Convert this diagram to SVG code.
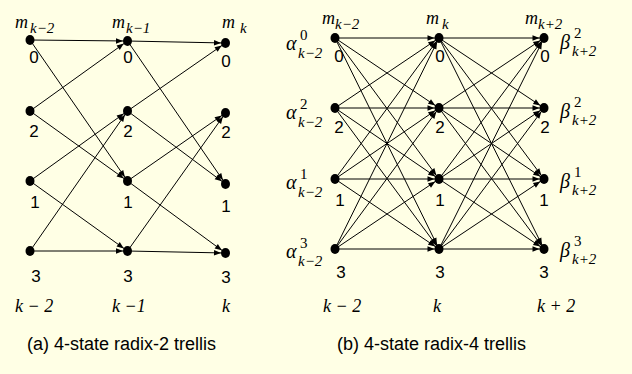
<svg xmlns="http://www.w3.org/2000/svg" width="632" height="374" viewBox="0 0 632 374">
<style>
.e{stroke:#000;stroke-width:1;fill:none;marker-end:url(#ah)}
.n{fill:#000}
.d{font-family:"Liberation Sans",Arial,sans-serif;font-size:17px;fill:#000;text-anchor:middle}
.m{font-family:"Liberation Serif","DejaVu Serif","Times New Roman",Times,serif;font-style:italic;font-size:18px;fill:#000}
.g{font-size:20px}
.s{font-size:15px}
.u{font-style:normal;font-size:15px}
.cap{font-family:"Liberation Sans",Arial,sans-serif;font-size:18px;fill:#000}
</style>
<defs>
<marker id="ah" markerUnits="userSpaceOnUse" markerWidth="14" markerHeight="6" refX="11.5" refY="2.75" orient="auto" overflow="visible">
<path d="M0,0 L7,2.75 L0,5.5 z" fill="#000"/>
</marker>
</defs>
<rect x="0" y="0" width="632" height="374" fill="#FFFFE5"/>
<g id="connectors">
<line class="e" x1="30" y1="40" x2="127.5" y2="41"/>
<line class="e" x1="30" y1="40" x2="127.5" y2="181"/>
<line class="e" x1="30" y1="111" x2="127.5" y2="41"/>
<line class="e" x1="30" y1="111" x2="127.5" y2="181"/>
<line class="e" x1="30" y1="181" x2="127.5" y2="111"/>
<line class="e" x1="30" y1="181" x2="127.5" y2="251"/>
<line class="e" x1="30" y1="251" x2="127.5" y2="111"/>
<line class="e" x1="30" y1="251" x2="127.5" y2="251"/>
<line class="e" x1="127.5" y1="41" x2="225.5" y2="43"/>
<line class="e" x1="127.5" y1="41" x2="225.5" y2="184"/>
<line class="e" x1="127.5" y1="111" x2="225.5" y2="43"/>
<line class="e" x1="127.5" y1="111" x2="225.5" y2="184"/>
<line class="e" x1="127.5" y1="181" x2="225.5" y2="113"/>
<line class="e" x1="127.5" y1="181" x2="225.5" y2="253"/>
<line class="e" x1="127.5" y1="251" x2="225.5" y2="113"/>
<line class="e" x1="127.5" y1="251" x2="225.5" y2="253"/>
<line class="e" x1="335" y1="38" x2="439" y2="38"/>
<line class="e" x1="335" y1="38" x2="439" y2="108"/>
<line class="e" x1="335" y1="38" x2="439" y2="179"/>
<line class="e" x1="335" y1="38" x2="439" y2="249"/>
<line class="e" x1="335" y1="108" x2="439" y2="38"/>
<line class="e" x1="335" y1="108" x2="439" y2="108"/>
<line class="e" x1="335" y1="108" x2="439" y2="179"/>
<line class="e" x1="335" y1="108" x2="439" y2="249"/>
<line class="e" x1="335" y1="179" x2="439" y2="38"/>
<line class="e" x1="335" y1="179" x2="439" y2="108"/>
<line class="e" x1="335" y1="179" x2="439" y2="179"/>
<line class="e" x1="335" y1="179" x2="439" y2="249"/>
<line class="e" x1="335" y1="249" x2="439" y2="38"/>
<line class="e" x1="335" y1="249" x2="439" y2="108"/>
<line class="e" x1="335" y1="249" x2="439" y2="179"/>
<line class="e" x1="335" y1="249" x2="439" y2="249"/>
<line class="e" x1="439" y1="38" x2="544" y2="38"/>
<line class="e" x1="439" y1="38" x2="544" y2="108"/>
<line class="e" x1="439" y1="38" x2="544" y2="179"/>
<line class="e" x1="439" y1="38" x2="544" y2="249"/>
<line class="e" x1="439" y1="108" x2="544" y2="38"/>
<line class="e" x1="439" y1="108" x2="544" y2="108"/>
<line class="e" x1="439" y1="108" x2="544" y2="179"/>
<line class="e" x1="439" y1="108" x2="544" y2="249"/>
<line class="e" x1="439" y1="179" x2="544" y2="38"/>
<line class="e" x1="439" y1="179" x2="544" y2="108"/>
<line class="e" x1="439" y1="179" x2="544" y2="179"/>
<line class="e" x1="439" y1="179" x2="544" y2="249"/>
<line class="e" x1="439" y1="249" x2="544" y2="38"/>
<line class="e" x1="439" y1="249" x2="544" y2="108"/>
<line class="e" x1="439" y1="249" x2="544" y2="179"/>
<line class="e" x1="439" y1="249" x2="544" y2="249"/>
</g>
<g id="a-k2-0"><ellipse class="n" cx="30" cy="40" rx="4.5" ry="5"/><text class="d" x="34" y="63">0</text></g>
<g id="a-k2-2"><ellipse class="n" cx="30" cy="111" rx="4.5" ry="5"/><text class="d" x="34" y="137">2</text></g>
<g id="a-k2-1"><ellipse class="n" cx="30" cy="181" rx="4.5" ry="5"/><text class="d" x="35" y="208">1</text></g>
<g id="a-k2-3"><ellipse class="n" cx="30" cy="251" rx="4.5" ry="5"/><text class="d" x="36" y="282">3</text></g>
<g id="a-k1-0"><ellipse class="n" cx="127.5" cy="41" rx="4.5" ry="5"/><text class="d" x="128" y="63">0</text></g>
<g id="a-k1-2"><ellipse class="n" cx="127.5" cy="111" rx="4.5" ry="5"/><text class="d" x="128" y="137">2</text></g>
<g id="a-k1-1"><ellipse class="n" cx="127.5" cy="181" rx="4.5" ry="5"/><text class="d" x="128" y="208">1</text></g>
<g id="a-k1-3"><ellipse class="n" cx="127.5" cy="251" rx="4.5" ry="5"/><text class="d" x="128" y="282">3</text></g>
<g id="a-k-0"><ellipse class="n" cx="225.5" cy="43" rx="4.5" ry="5"/><text class="d" x="226" y="67">0</text></g>
<g id="a-k-2"><ellipse class="n" cx="225.5" cy="113" rx="4.5" ry="5"/><text class="d" x="226" y="138">2</text></g>
<g id="a-k-1"><ellipse class="n" cx="225.5" cy="184" rx="4.5" ry="5"/><text class="d" x="226" y="212">1</text></g>
<g id="a-k-3"><ellipse class="n" cx="225.5" cy="253" rx="4.5" ry="5"/><text class="d" x="226" y="283">3</text></g>
<g id="b-k2-0"><ellipse class="n" cx="335" cy="38" rx="4.5" ry="5"/><text class="d" x="339" y="62">0</text></g>
<g id="b-k2-2"><ellipse class="n" cx="335" cy="108" rx="4.5" ry="5"/><text class="d" x="339" y="133">2</text></g>
<g id="b-k2-1"><ellipse class="n" cx="335" cy="179" rx="4.5" ry="5"/><text class="d" x="340" y="206">1</text></g>
<g id="b-k2-3"><ellipse class="n" cx="335" cy="249" rx="4.5" ry="5"/><text class="d" x="341" y="278">3</text></g>
<g id="b-k-0"><ellipse class="n" cx="439" cy="38" rx="4.5" ry="5"/><text class="d" x="440" y="62">0</text></g>
<g id="b-k-2"><ellipse class="n" cx="439" cy="108" rx="4.5" ry="5"/><text class="d" x="440" y="133">2</text></g>
<g id="b-k-1"><ellipse class="n" cx="439" cy="179" rx="4.5" ry="5"/><text class="d" x="440" y="206">1</text></g>
<g id="b-k-3"><ellipse class="n" cx="439" cy="249" rx="4.5" ry="5"/><text class="d" x="440" y="278">3</text></g>
<g id="b-kp2-0"><ellipse class="n" cx="544" cy="38" rx="4.5" ry="5"/><text class="d" x="545" y="62">0</text></g>
<g id="b-kp2-2"><ellipse class="n" cx="544" cy="108" rx="4.5" ry="5"/><text class="d" x="545" y="133">2</text></g>
<g id="b-kp2-1"><ellipse class="n" cx="544" cy="179" rx="4.5" ry="5"/><text class="d" x="544" y="206">1</text></g>
<g id="b-kp2-3"><ellipse class="n" cx="544" cy="249" rx="4.5" ry="5"/><text class="d" x="544" y="278">3</text></g>
<g id="labels">
<text class="m" x="15" y="28">m<tspan class="s" x="30" y="33">k−2</tspan></text>
<text class="m" x="112" y="28">m<tspan class="s" x="126" y="33">k−1</tspan></text>
<text class="m" x="222" y="28">m<tspan class="s" x="240" y="33">k</tspan></text>
<text class="m" x="15" y="312">k − 2</text>
<text class="m" x="112" y="312">k −1</text>
<text class="m" x="222" y="312">k</text>
<text class="cap" x="27" y="350">(a) 4-state radix-2 trellis</text>
<text class="m" x="322" y="24">m<tspan class="s" x="335" y="29">k−2</tspan></text>
<text class="m" x="426" y="24">m<tspan class="s" x="442" y="29">k</tspan></text>
<text class="m" x="525" y="24">m<tspan class="s" x="538" y="29">k+2</tspan></text>
<text class="m g" x="286" y="50">α<tspan class="u" x="300" y="40">0</tspan><tspan class="s" x="298" y="58">k−2</tspan></text>
<text class="m g" x="286" y="119">α<tspan class="u" x="300" y="109">2</tspan><tspan class="s" x="298" y="127">k−2</tspan></text>
<text class="m g" x="286" y="189">α<tspan class="u" x="300" y="179">1</tspan><tspan class="s" x="298" y="197">k−2</tspan></text>
<text class="m g" x="286" y="258">α<tspan class="u" x="300" y="248">3</tspan><tspan class="s" x="298" y="266">k−2</tspan></text>
<text class="m g" x="560" y="49">β<tspan class="u" x="574" y="38">2</tspan><tspan class="s" x="572" y="56">k+2</tspan></text>
<text class="m g" x="560" y="118">β<tspan class="u" x="574" y="107">2</tspan><tspan class="s" x="572" y="125">k+2</tspan></text>
<text class="m g" x="560" y="188">β<tspan class="u" x="574" y="177">1</tspan><tspan class="s" x="572" y="195">k+2</tspan></text>
<text class="m g" x="560" y="257">β<tspan class="u" x="574" y="246">3</tspan><tspan class="s" x="572" y="264">k+2</tspan></text>
<text class="m" x="323" y="312">k − 2</text>
<text class="m" x="433" y="312">k</text>
<text class="m" x="537" y="312">k + 2</text>
<text class="cap" x="337" y="350">(b) 4-state radix-4 trellis</text>
</g>
</svg>
